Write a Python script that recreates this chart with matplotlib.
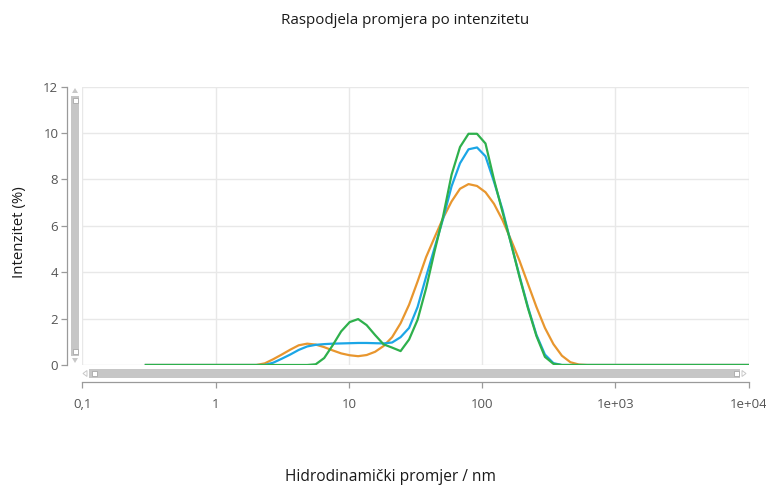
import numpy as np
import matplotlib
matplotlib.use("Agg")
import matplotlib.pyplot as plt
from matplotlib.patches import Rectangle, Polygon
from matplotlib.ticker import FixedLocator, FixedFormatter, NullLocator

plt.rcParams['font.family'] = ['Open Sans', 'DejaVu Sans']

# Size classes (nm), logarithmically spaced from 0.3 to 10000
sizes_nm = np.geomspace(0.3, 10000, 72)

intensity_orange = [
    0, 0, 0, 0, 0, 0, 0, 0, 0, 0, 0, 0, 0,
    0.00, 0.07, 0.25, 0.45, 0.66, 0.85, 0.92, 0.88, 0.77, 0.63, 0.50,
    0.42, 0.38, 0.43, 0.57, 0.82, 1.20, 1.80, 2.60, 3.60, 4.65, 5.50,
    6.33, 7.05, 7.60, 7.80, 7.72, 7.45, 6.95, 6.25, 5.40, 4.50, 3.50,
    2.50, 1.60, 0.90, 0.40, 0.12, 0.02,
    0, 0, 0, 0, 0, 0, 0, 0, 0, 0, 0, 0, 0, 0, 0, 0, 0, 0, 0, 0,
]

intensity_blue = [
    0, 0, 0, 0, 0, 0, 0, 0, 0, 0, 0, 0, 0, 0, 0,
    0.10, 0.27, 0.45, 0.65, 0.80, 0.87, 0.90, 0.92, 0.93, 0.94, 0.95,
    0.95, 0.94, 0.93, 0.97, 1.20, 1.60, 2.50, 3.80, 5.05, 6.30, 7.70,
    8.70, 9.30, 9.38, 9.00, 7.90, 6.70, 5.25, 3.85, 2.50, 1.30, 0.45,
    0.08,
    0, 0, 0, 0, 0, 0, 0, 0, 0, 0, 0, 0, 0, 0, 0, 0, 0, 0, 0, 0, 0, 0, 0,
]

intensity_green = [
    0, 0, 0, 0, 0, 0, 0, 0, 0, 0, 0, 0, 0, 0, 0, 0, 0, 0, 0, 0,
    0.03, 0.30, 0.85, 1.45, 1.85, 1.98, 1.72, 1.29, 0.89, 0.75, 0.60,
    1.10, 1.95, 3.30, 4.90, 6.40, 8.20, 9.40, 9.97, 9.97, 9.55, 8.00,
    6.60, 5.25, 3.80, 2.45, 1.25, 0.35, 0.05,
    0, 0, 0, 0, 0, 0, 0, 0, 0, 0, 0, 0, 0, 0, 0, 0, 0, 0, 0, 0, 0, 0, 0,
]

x_ticks = [0.1, 1, 10, 100, 1000, 10000]
x_tick_labels = ['0,1', '1', '10', '100', '1e+03', '1e+04']
y_ticks = [0, 2, 4, 6, 8, 10, 12]

title = 'Raspodjela promjera po intenzitetu'
x_label = 'Hidrodinamički promjer / nm'
y_label = 'Intenzitet (%)'

W, H = 766, 488
fig = plt.figure(figsize=(W / 100, H / 100), dpi=100)
fig.patch.set_facecolor('white')

# plot area in pixels
px_left, px_right = 82.3, 748.7
px_top, px_bottom = 86.7, 365.0
ax = fig.add_axes([px_left / W, 1 - px_bottom / H,
                   (px_right - px_left) / W, (px_bottom - px_top) / H])
ax.set_xscale('log')
ax.set_xlim(0.1, 10000)
ax.set_ylim(0, 12)

grid_col = '#E8E8E8'
ax.xaxis.set_major_locator(FixedLocator(x_ticks))
ax.xaxis.set_major_formatter(FixedFormatter(x_tick_labels))
ax.xaxis.set_minor_locator(NullLocator())
ax.yaxis.set_major_locator(FixedLocator(y_ticks))
ax.grid(True, color=grid_col, linewidth=1.0)
ax.set_axisbelow(True)

for s in ['top', 'right']:
    ax.spines[s].set_visible(False)
ax.spines['left'].set_position(('outward', 15.6 * 72 / 100))
ax.spines['bottom'].set_position(('outward', 17.3 * 72 / 100))
for s in ['left', 'bottom']:
    ax.spines[s].set_color('#9A9A9A')
    ax.spines[s].set_linewidth(0.9)
ax.tick_params(axis='both', direction='out', length=4, width=0.9,
               color='#9A9A9A', labelcolor='#555555', labelsize=9.5)
ax.tick_params(axis='x', pad=7)
ax.tick_params(axis='y', pad=2)

lw = 1.6
ax.plot(sizes_nm, intensity_orange, color='#E8962E', lw=lw, zorder=3)
ax.plot(sizes_nm, intensity_blue, color='#1BA6E6', lw=lw, zorder=4)
ax.plot(sizes_nm, intensity_green, color='#2EB04C', lw=lw, zorder=5)

# text
fig.text(405 / W, 1 - 20 / H, title, ha='center', va='center',
         fontsize=10.9, color='#1A1A1A')
fig.text(390 / W, 1 - 477 / H, x_label, ha='center', va='center',
         fontsize=11.2, color='#1A1A1A')
fig.text(20 / W, 1 - 232 / H, y_label, ha='center', va='center',
         rotation=90, fontsize=10.8, color='#1A1A1A')

# scrollbars drawn in pixel coordinates
ov = fig.add_axes([0, 0, 1, 1], zorder=10)
ov.set_xlim(0, W)
ov.set_ylim(H, 0)
ov.axis('off')
ov.patch.set_alpha(0)

bar_col = '#C6C6C6'
arrow_col = '#C8C8C8'
# vertical
ov.add_patch(Rectangle((71, 96), 8, 260, facecolor=bar_col, edgecolor='none'))
ov.add_patch(Rectangle((72.5, 97.5), 5, 5, facecolor='white', edgecolor='#A8A8A8', lw=0.6))
ov.add_patch(Rectangle((72.5, 348.5), 5, 5, facecolor='white', edgecolor='#A8A8A8', lw=0.6))
ov.add_patch(Polygon([(72, 93), (78, 93), (75, 88)], closed=True, facecolor=arrow_col, edgecolor='none'))
ov.add_patch(Polygon([(72, 358), (78, 358), (75, 363)], closed=True, facecolor=arrow_col, edgecolor='none'))
# horizontal
ov.add_patch(Rectangle((89, 369), 651, 9, facecolor=bar_col, edgecolor='none'))
ov.add_patch(Rectangle((91.5, 371), 5, 5, facecolor='white', edgecolor='#A8A8A8', lw=0.6))
ov.add_patch(Rectangle((733.5, 371), 5, 5, facecolor='white', edgecolor='#A8A8A8', lw=0.6))
ov.add_patch(Polygon([(87, 370.5), (87, 376.5), (83, 373.5)], closed=True, facecolor='none', edgecolor=arrow_col, lw=0.7))
ov.add_patch(Polygon([(742, 370.5), (742, 376.5), (746, 373.5)], closed=True, facecolor='none', edgecolor=arrow_col, lw=0.7))

fig.savefig('out.png', dpi=100)
